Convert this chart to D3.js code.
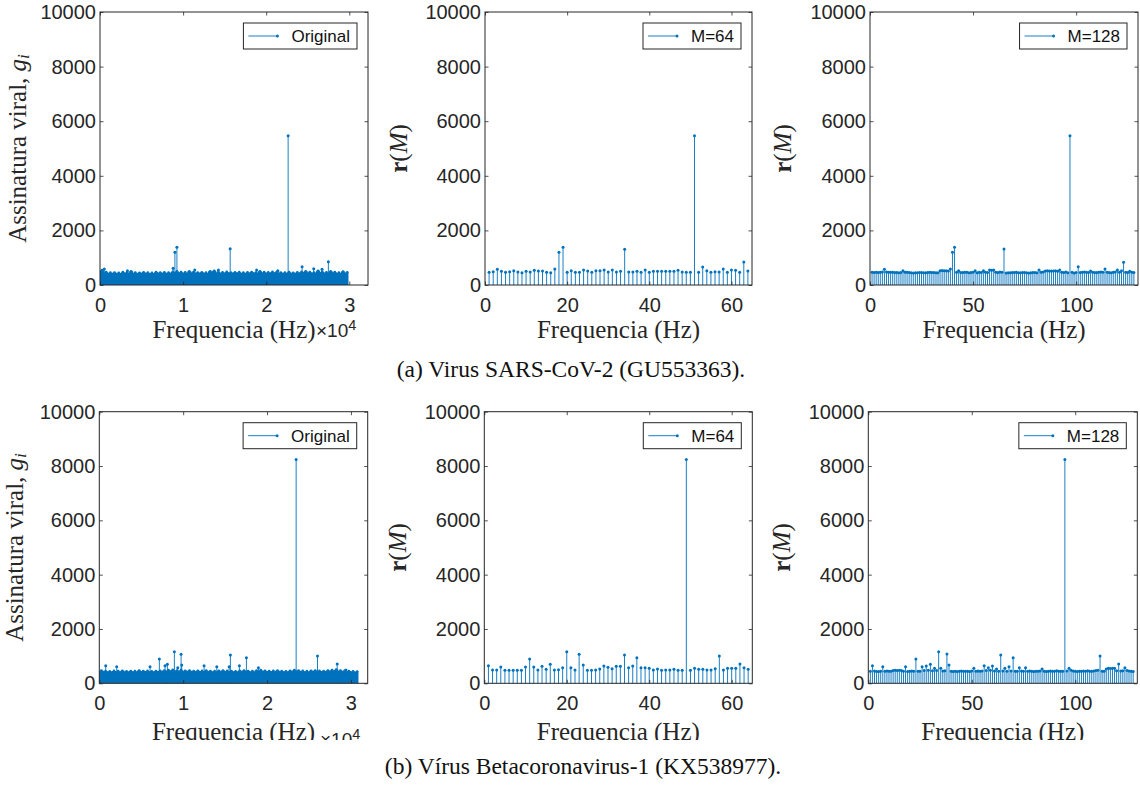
<!DOCTYPE html>
<html>
<head>
<meta charset="utf-8">
<script src="https://cdn.jsdelivr.net/npm/d3@7"></script>
<style>
  body { margin: 0; background: #fff; }
  svg { display: block; }
</style>
</head>
<body>
<svg width="1140" height="785"></svg>
<script>
// ---- data ----
var yTicks = [0, 2000, 4000, 6000, 8000, 10000];

// (a) SARS-CoV-2, original signal: band top per 500 Hz bin + the stems that stand out
var sarsOrigBinHz = 500;
var sarsOrigLength = 29903;
var sarsOrigEnvelope = [
  540, 470, 450, 455, 440, 470, 460, 500, 450, 445,
  465, 450, 440, 470, 455, 460, 450, 480, 495, 470,
  460, 500, 470, 455, 465, 450, 500, 520, 470, 460,
  480, 455, 465, 470, 450, 460, 475, 455, 500, 470,
  460, 480, 470, 455, 450, 470, 445, 460, 480, 500,
  470, 455, 520, 480, 460, 500, 470, 450, 490, 460
];
var sarsOrigPeakHz  = [520, 3300, 8800, 9014, 9255, 11400, 14250, 15665, 18850, 21400, 22640, 24320, 25720, 26720, 27480];
var sarsOrigPeakVal = [586, 525, 611, 1197, 1380, 549, 549, 1330, 549, 525, 5470, 670, 597, 575, 853];

var sarsM64 = [
  464, 488, 574, 500, 464, 488, 525, 476, 452, 500, 476, 537, 513, 513, 464, 452,
  586, 1197, 1380, 464, 525, 464, 464, 549, 513, 464, 525, 525, 549, 476, 549, 476,
  500, 1307, 476, 476, 500, 464, 549, 464, 500, 500, 500, 500, 500, 500, 537, 476,
  464, 464, 5470, 464, 659, 525, 464, 488, 476, 586, 464, 549, 537, 464, 842, 513
];

var sarsM128 = [
  470, 460, 465, 455, 470, 480, 574, 480, 470, 465, 470, 460, 455, 450, 455, 525,
  470, 465, 455, 450, 440, 445, 450, 460, 455, 445, 450, 460, 470, 455, 460, 450,
  445, 525, 530, 520, 525, 510, 586, 1197, 1380, 470, 525, 460, 455, 470, 465, 450,
  460, 470, 525, 450, 470, 460, 525, 470, 460, 549, 540, 549, 470, 460, 480, 470,
  1320, 440, 450, 445, 455, 460, 470, 450, 445, 460, 455, 450, 440, 445, 455, 460,
  450, 549, 470, 480, 513, 520, 510, 515, 513, 520, 500, 549, 470, 460, 480, 450,
  5470, 470, 440, 460, 671, 455, 470, 480, 465, 460, 513, 470, 455, 460, 470, 480,
  470, 586, 470, 460, 450, 470, 475, 549, 470, 520, 830, 470, 455, 500, 470, 460
];

// (b) Betacoronavirus-1
var betaOrigBinHz = 500;
var betaOrigLength = 30900;
var betaOrigEnvelope = [
  470, 450, 440, 455, 445, 460, 440, 450, 445, 470,
  450, 455, 440, 450, 460, 470, 480, 490, 470, 480,
  460, 470, 450, 460, 455, 470, 450, 445, 460, 470,
  455, 450, 440, 460, 470, 450, 445, 470, 480, 460,
  450, 455, 470, 450, 440, 460, 480, 470, 455, 445,
  460, 470, 455, 450, 470, 480, 500, 470, 460, 450,
  440, 430
];
var betaOrigPeakHz  = [764, 2076, 6050, 7160, 7840, 8115, 8950, 9355, 9750, 9830, 12494, 14010, 15480, 15630, 16700, 17540, 18970, 23470, 26015, 28365, 29400];
var betaOrigPeakVal = [649, 612, 612, 895, 649, 700, 1165, 575, 1067, 674, 649, 612, 612, 1042, 649, 944, 575, 8240, 1005, 713, 490];

var betaM64 = [
  649, 490, 490, 600, 477, 477, 477, 477, 477, 600, 895, 600, 490, 625, 515, 700,
  490, 502, 575, 1165, 575, 490, 1067, 674, 477, 477, 490, 527, 637, 588, 539, 625,
  625, 1042, 575, 637, 944, 575, 575, 551, 490, 527, 477, 490, 490, 515, 477, 477,
  8240, 477, 551, 515, 515, 490, 490, 539, 1005, 490, 551, 551, 551, 713, 575, 515
];

var betaM128 = [
  440, 649, 450, 430, 435, 445, 612, 440, 450, 445, 440, 470, 480, 475, 480, 470,
  440, 612, 430, 445, 450, 440, 895, 440, 445, 612, 470, 637, 480, 700, 460, 551,
  470, 1165, 551, 450, 460, 1080, 674, 440, 435, 440, 430, 445, 450, 440, 445, 440,
  430, 450, 551, 440, 450, 445, 455, 649, 470, 575, 480, 637, 450, 527, 440, 1042,
  450, 551, 440, 612, 450, 944, 440, 445, 575, 450, 440, 575, 445, 450, 440, 435,
  440, 445, 450, 527, 440, 430, 445, 450, 440, 445, 460, 440, 445, 440, 8240, 455,
  551, 480, 450, 440, 435, 445, 440, 450, 445, 460, 440, 445, 450, 470, 480, 1005,
  445, 440, 527, 551, 545, 551, 551, 460, 713, 450, 460, 575, 470, 450, 440, 435
];

var captions = ["(a) Virus SARS-CoV-2 (GU553363).", "(b) Vírus Betacoronavirus-1 (KX538977)."];

// ---- drawing ----
var BLUE = "#0072BD", INK = "#262626";
var SANS = "'Liberation Sans', Arial, Helvetica, sans-serif";
var SERIF = "'Liberation Serif', 'Times New Roman', serif";

var svg = d3.select("svg");
svg.append("rect").attr("width", 1140).attr("height", 785).attr("fill", "#fff");

var panels = [
  { left: 100, right: 368, top: 12, bottom: 285, xMax: 32250, xTicks: [0, 1e4, 2e4, 3e4], fmt: function(d) { return d / 1e4; },
    env: sarsOrigEnvelope, bin: sarsOrigBinHz, len: sarsOrigLength, freqs: sarsOrigPeakHz, vals: sarsOrigPeakVal,
    legend: "Original", ylab: "orig", ylabX: 25.5, xlabY: 337.5, exp: [316, 337] },
  { left: 485, right: 752, top: 12, bottom: 285, xMax: 65, xTicks: [0, 20, 40, 60], fmt: d3.format("d"),
    freqs: d3.range(1, 65), vals: sarsM64, legend: "M=64", ylab: "r", ylabX: 406.5, xlabY: 337.5 },
  { left: 870, right: 1138, top: 12, bottom: 285, xMax: 130, xTicks: [0, 50, 100], fmt: d3.format("d"),
    freqs: d3.range(1, 129), vals: sarsM128, legend: "M=128", ylab: "r", ylabX: 790.5, xlabY: 337.5 },
  { left: 99.3, right: 367.7, top: 411.7, bottom: 683.3, xMax: 32000, xTicks: [0, 1e4, 2e4, 3e4], fmt: function(d) { return d / 1e4; },
    env: betaOrigEnvelope, bin: betaOrigBinHz, len: betaOrigLength, freqs: betaOrigPeakHz, vals: betaOrigPeakVal,
    legend: "Original", ylab: "orig", ylabX: 22.5, xlabY: 740, clip: 740, exp: [320, 746] },
  { left: 484.3, right: 752.3, top: 411.7, bottom: 683.3, xMax: 65, xTicks: [0, 20, 40, 60], fmt: d3.format("d"),
    freqs: d3.range(1, 65), vals: betaM64, legend: "M=64", ylab: "r", ylabX: 406, xlabY: 740, clip: 740 },
  { left: 868.3, right: 1137.3, top: 411.7, bottom: 683.3, xMax: 130, xTicks: [0, 50, 100], fmt: d3.format("d"),
    freqs: d3.range(1, 129), vals: betaM128, legend: "M=128", ylab: "r", ylabX: 790, xlabY: 740, clip: 740 }
];

var defs = svg.append("defs");
defs.append("clipPath").attr("id", "cutBottom")
  .append("rect").attr("x", 0).attr("y", 0).attr("width", 1140).attr("height", 740);

function styleAxis(sel) {
  sel.attr("font-size", 20).attr("font-family", SANS).attr("color", INK);
  sel.select(".domain").remove();
  sel.selectAll(".tick line").attr("stroke-width", 0.8);
}

panels.forEach(function(p) {
  var g = svg.append("g");
  var x = d3.scaleLinear().domain([0, p.xMax]).range([p.left, p.right]);
  var y = d3.scaleLinear().domain([0, 10000]).range([p.bottom, p.top]);

  // dense band of the original signal
  if (p.env) {
    var pts = p.env.map(function(v, i) { return [i * p.bin, v]; });
    pts.push([p.len, p.env[p.env.length - 1]]);
    g.append("path").datum(pts)
      .attr("d", d3.area()
        .x(function(d) { return x(Math.min(d[0], p.len)); })
        .y0(y(0))
        .y1(function(d) { return y(d[1]); })
        .curve(d3.curveStepAfter))
      .attr("fill", BLUE);
    g.append("g").selectAll("circle").data(p.env).join("circle")
      .attr("cx", function(v, i) { return x(Math.min((i + 0.5) * p.bin, p.len)); })
      .attr("cy", function(v) { return y(v); })
      .attr("r", 1.4)
      .attr("fill", BLUE);
  }

  var stems = p.freqs.map(function(f, i) { return { f: f, v: p.vals[i] }; });
  g.append("g").selectAll("line").data(stems).join("line")
    .attr("x1", function(d) { return x(d.f); })
    .attr("x2", function(d) { return x(d.f); })
    .attr("y1", y(0))
    .attr("y2", function(d) { return y(d.v); })
    .attr("stroke", BLUE)
    .attr("stroke-width", 0.9);
  g.append("g").selectAll("circle").data(stems).join("circle")
    .attr("cx", function(d) { return x(d.f); })
    .attr("cy", function(d) { return y(d.v); })
    .attr("r", 1.5)
    .attr("fill", BLUE);

  // axes (MATLAB style box with inward ticks on all sides)
  g.append("g").attr("transform", "translate(0," + p.bottom + ")")
    .call(d3.axisBottom(x).tickValues(p.xTicks).tickFormat(p.fmt).tickSizeInner(-3.5).tickSizeOuter(0).tickPadding(13))
    .call(styleAxis);
  g.append("g").attr("transform", "translate(0," + p.top + ")")
    .call(d3.axisTop(x).tickValues(p.xTicks).tickFormat("").tickSizeInner(-3.5).tickSizeOuter(0))
    .call(styleAxis);
  g.append("g").attr("transform", "translate(" + p.left + ",0)")
    .call(d3.axisLeft(y).tickValues(yTicks).tickFormat(d3.format("d")).tickSizeInner(-3.5).tickSizeOuter(0).tickPadding(4))
    .call(styleAxis);
  g.append("g").attr("transform", "translate(" + p.right + ",0)")
    .call(d3.axisRight(y).tickValues(yTicks).tickFormat("").tickSizeInner(-3.5).tickSizeOuter(0))
    .call(styleAxis);
  g.append("rect")
    .attr("x", p.left).attr("y", p.top)
    .attr("width", p.right - p.left).attr("height", p.bottom - p.top)
    .attr("fill", "none").attr("stroke", INK).attr("stroke-width", 1);

  // legend
  var lg = g.append("g");
  var lt = lg.append("text").attr("font-family", SANS).attr("font-size", 17).attr("fill", "#111").text(p.legend);
  var w = lt.node().getComputedTextLength() + 55;
  var lx = p.right - 11 - w, ly = p.top + 11;
  lg.insert("rect", "text").attr("x", lx).attr("y", ly).attr("width", w).attr("height", 26)
    .attr("fill", "#fff").attr("stroke", INK).attr("stroke-width", 1);
  lt.attr("x", lx + 48).attr("y", ly + 19);
  lg.append("line").attr("x1", lx + 5).attr("x2", lx + 34).attr("y1", ly + 13).attr("y2", ly + 13)
    .attr("stroke", BLUE).attr("stroke-width", 0.9);
  lg.append("circle").attr("cx", lx + 34).attr("cy", ly + 13).attr("r", 1.5).attr("fill", BLUE);

  // x label (+ exponent for the original signal)
  var xl = g.append("g");
  if (p.clip) xl.attr("clip-path", "url(#cutBottom)");
  xl.append("text")
    .attr("x", (p.left + p.right) / 2).attr("y", p.xlabY)
    .attr("text-anchor", "middle")
    .attr("font-family", SERIF).attr("font-size", 25).attr("fill", INK)
    .text("Frequencia (Hz)");
  if (p.exp) {
    var et = xl.append("text").attr("x", p.exp[0]).attr("y", p.exp[1])
      .attr("font-family", SANS).attr("font-size", 19).attr("fill", INK);
    et.append("tspan").text("\u00d710");
    et.append("tspan").attr("dy", "-0.5em").attr("font-size", 14.5).text("4");
  }

  // y label
  var yt = g.append("text")
    .attr("transform", "translate(" + p.ylabX + "," + ((p.top + p.bottom) / 2) + ") rotate(-90)")
    .attr("text-anchor", "middle")
    .attr("font-family", SERIF).attr("font-size", 25).attr("fill", INK);
  if (p.ylab === "orig") {
    yt.append("tspan").text("Assinatura viral, ");
    yt.append("tspan").attr("font-style", "italic").text("g");
    yt.append("tspan").attr("font-style", "italic").attr("font-size", 17).attr("dy", "0.2em").text("i");
  } else {
    yt.append("tspan").attr("font-weight", "bold").text("r");
    yt.append("tspan").text("(");
    yt.append("tspan").attr("font-style", "italic").text("M");
    yt.append("tspan").text(")");
  }
});

// sub-figure captions
svg.append("text").attr("x", 571).attr("y", 377).attr("text-anchor", "middle")
  .attr("font-family", SERIF).attr("font-size", 23.5).attr("fill", "#111").text(captions[0]);
svg.append("text").attr("x", 583).attr("y", 774).attr("text-anchor", "middle")
  .attr("font-family", SERIF).attr("font-size", 23.5).attr("fill", "#111").text(captions[1]);
</script>
</body>
</html>
